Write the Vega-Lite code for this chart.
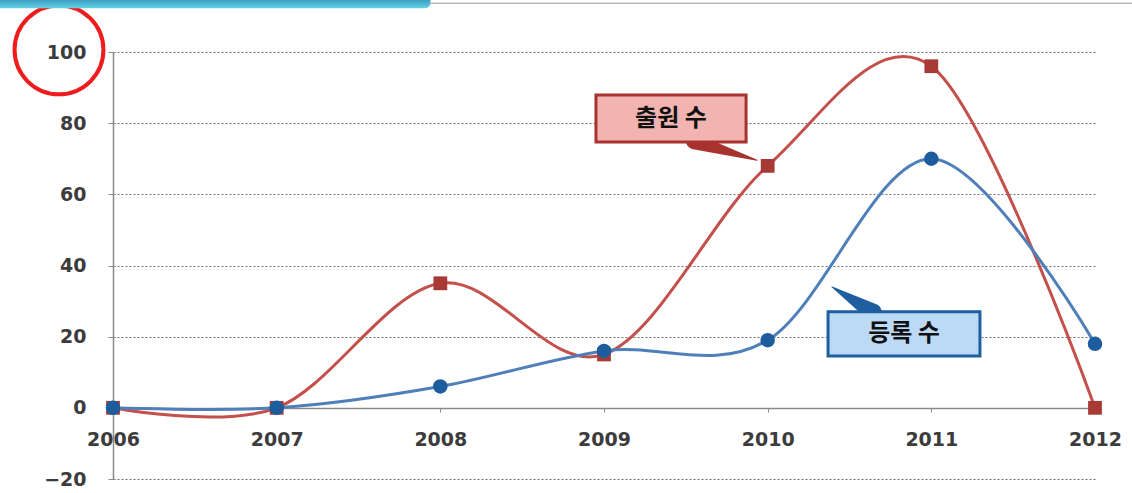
{
  "$schema": "https://vega.github.io/schema/vega-lite/v6.json",
  "width": 982,
  "height": 427,
  "autosize": {"type": "none"},
  "padding": {"left": 113, "top": 52, "right": 37, "bottom": 14},
  "background": "white",
  "config": {"view": {"stroke": null}},
  "datasets": {
    "series": [
      {"year": 2006, "series": "출원 수", "value": 0},
      {"year": 2007, "series": "출원 수", "value": 0},
      {"year": 2008, "series": "출원 수", "value": 35},
      {"year": 2009, "series": "출원 수", "value": 15},
      {"year": 2010, "series": "출원 수", "value": 68},
      {"year": 2011, "series": "출원 수", "value": 96},
      {"year": 2012, "series": "출원 수", "value": 0},
      {"year": 2006, "series": "등록 수", "value": 0},
      {"year": 2007, "series": "등록 수", "value": 0},
      {"year": 2008, "series": "등록 수", "value": 6},
      {"year": 2009, "series": "등록 수", "value": 16},
      {"year": 2010, "series": "등록 수", "value": 19},
      {"year": 2011, "series": "등록 수", "value": 70},
      {"year": 2012, "series": "등록 수", "value": 18}
    ],
    "boxes": [
      {"name": "출원 수", "x": 2008.951, "x2": 2009.868, "y": 87.9, "y2": 74.7, "tx": 2009.409, "ty": 81.3},
      {"name": "등록 수", "x": 2010.369, "x2": 2011.297, "y": 27.0, "y2": 14.6, "tx": 2010.833, "ty": 20.8}
    ],
    "tails": [
      {"name": "출원 수", "x": 2009.55, "y": 74.9, "w": 16, "o": 0},
      {"name": "출원 수", "x": 2009.935, "y": 69.6, "w": 1, "o": 1},
      {"name": "등록 수", "x": 2010.643, "y": 26.8, "w": 18, "o": 0},
      {"name": "등록 수", "x": 2010.393, "y": 34.0, "w": 1, "o": 1}
    ],
    "mark": [
      {"x": 2005.67, "y": 100.6}
    ],
    "header": [
      {"x": 2005.2, "x2": 2007.94, "y": 115.5, "y2": 112.3}
    ],
    "headline": [
      {"x": 2007.94, "x2": 2012.3, "y": 113.7}
    ]
  },
  "layer": [
    {
      "data": {"name": "series"},
      "mark": {"type": "line", "interpolate": "cardinal", "strokeWidth": 3, "clip": false},
      "encoding": {
        "x": {
          "field": "year", "type": "quantitative",
          "scale": {"domain": [2006, 2012], "nice": false, "zero": false},
          "axis": {
            "orient": "bottom", "offset": -71, "values": [2006, 2007, 2008, 2009, 2010, 2011, 2012],
            "format": "d", "title": null, "grid": false,
            "domainColor": "#8a8a8a", "domainWidth": 1.5,
            "ticks": true, "tickSize": 4, "tickColor": "#8a8a8a",
            "labelFont": "DejaVu Sans", "labelFontSize": 19, "labelFontWeight": "bold", "labelColor": "#3c3c3c",
            "labelPadding": 18, "labelFlush": false
          }
        },
        "y": {
          "field": "value", "type": "quantitative",
          "scale": {"domain": [-20, 100], "nice": false, "zero": false},
          "axis": {
            "values": [-20, 0, 20, 40, 60, 80, 100], "title": null,
            "grid": true, "gridColor": "#6e6e6e", "gridDash": [2, 2], "gridWidth": 1,
            "domainColor": "#8a8a8a", "domainWidth": 1.5,
            "ticks": true, "tickSize": 5, "tickColor": "#8a8a8a",
            "labelFont": "DejaVu Sans", "labelFontSize": 19, "labelFontWeight": "bold", "labelColor": "#3c3c3c",
            "labelPadding": 22
          }
        },
        "color": {
          "field": "series", "type": "nominal",
          "scale": {"domain": ["출원 수", "등록 수"], "range": ["#c4504c", "#4f7fb8"]},
          "legend": null
        },
        "order": {"field": "year"}
      }
    },
    {
      "data": {"name": "series"},
      "mark": {"type": "point", "filled": true, "opacity": 1, "clip": false},
      "encoding": {
        "x": {"field": "year", "type": "quantitative"},
        "y": {"field": "value", "type": "quantitative"},
        "shape": {
          "field": "series", "type": "nominal",
          "scale": {"domain": ["출원 수", "등록 수"], "range": ["square", "circle"]},
          "legend": null
        },
        "fill": {
          "field": "series", "type": "nominal",
          "scale": {"domain": ["출원 수", "등록 수"], "range": ["#a83a36", "#1d5d9e"]},
          "legend": null
        },
        "size": {
          "field": "series", "type": "nominal",
          "scale": {"domain": ["출원 수", "등록 수"], "range": [190, 210]},
          "legend": null
        }
      }
    },
    {
      "data": {"name": "tails"},
      "transform": [{"filter": "datum.name === '출원 수'"}],
      "mark": {"type": "trail", "color": "#a8322e", "clip": false},
      "encoding": {
        "x": {"field": "x", "type": "quantitative"},
        "y": {"field": "y", "type": "quantitative"},
        "size": {"field": "w", "type": "quantitative", "scale": null},
        "order": {"field": "o"}
      }
    },
    {
      "data": {"name": "tails"},
      "transform": [{"filter": "datum.name === '등록 수'"}],
      "mark": {"type": "trail", "color": "#1f5fa0", "clip": false},
      "encoding": {
        "x": {"field": "x", "type": "quantitative"},
        "y": {"field": "y", "type": "quantitative"},
        "size": {"field": "w", "type": "quantitative", "scale": null},
        "order": {"field": "o"}
      }
    },
    {
      "data": {"name": "boxes"},
      "transform": [{"filter": "datum.name === '출원 수'"}],
      "mark": {"type": "rect", "fill": "#f2b4b1", "stroke": "#a8322e", "strokeWidth": 3, "clip": false},
      "encoding": {
        "x": {"field": "x", "type": "quantitative"},
        "x2": {"field": "x2"},
        "y": {"field": "y", "type": "quantitative"},
        "y2": {"field": "y2"}
      }
    },
    {
      "data": {"name": "boxes"},
      "transform": [{"filter": "datum.name === '등록 수'"}],
      "mark": {"type": "rect", "fill": "#bcdaf6", "stroke": "#1f5fa0", "strokeWidth": 3, "clip": false},
      "encoding": {
        "x": {"field": "x", "type": "quantitative"},
        "x2": {"field": "x2"},
        "y": {"field": "y", "type": "quantitative"},
        "y2": {"field": "y2"}
      }
    },
    {
      "data": {"name": "boxes"},
      "mark": {"type": "text", "font": "Noto Sans CJK KR", "fontSize": 24, "fontWeight": "bold", "color": "#111111", "align": "center", "baseline": "middle", "clip": false},
      "encoding": {
        "x": {"field": "tx", "type": "quantitative"},
        "y": {"field": "ty", "type": "quantitative"},
        "text": {"field": "name"}
      }
    },
    {
      "data": {"name": "mark"},
      "mark": {"type": "point", "shape": "circle", "filled": false, "stroke": "#ee1c1c", "strokeWidth": 4, "size": 7900, "opacity": 1, "clip": false},
      "encoding": {
        "x": {"field": "x", "type": "quantitative"},
        "y": {"field": "y", "type": "quantitative"}
      }
    },
    {
      "data": {"name": "header"},
      "mark": {"type": "rect", "cornerRadiusBottomRight": 8, "clip": false,
        "fill": {"gradient": "linear", "x1": 0, "y1": 0, "x2": 0, "y2": 1,
          "stops": [{"offset": 0, "color": "#2f8fb5"}, {"offset": 1, "color": "#62d2e4"}]}},
      "encoding": {
        "x": {"field": "x", "type": "quantitative"},
        "x2": {"field": "x2"},
        "y": {"field": "y", "type": "quantitative"},
        "y2": {"field": "y2"}
      }
    },
    {
      "data": {"name": "headline"},
      "mark": {"type": "rule", "color": "#9a9a9a", "strokeWidth": 1, "clip": false},
      "encoding": {
        "x": {"field": "x", "type": "quantitative"},
        "x2": {"field": "x2"},
        "y": {"field": "y", "type": "quantitative"}
      }
    }
  ]
}
